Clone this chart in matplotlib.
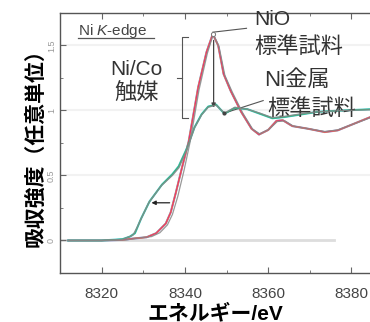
import numpy as np
import matplotlib
matplotlib.use('Agg')
import matplotlib.pyplot as plt

plt.rcParams['font.family'] = ['Liberation Sans', 'Noto Sans CJK JP', 'DejaVu Sans']
plt.rcParams['mathtext.fontset'] = 'custom'
plt.rcParams['mathtext.rm'] = 'Liberation Sans'
plt.rcParams['mathtext.it'] = 'Liberation Sans:italic'

# Ni/Co catalyst, oxidised state (follows NiO)
E_ox = [8312, 8320, 8325, 8327.6, 8330.8, 8333.1, 8335.4, 8336.6, 8337.8, 8339.3,
        8340.9, 8343.2, 8345.2, 8346.7, 8348.0, 8349.3, 8351.0, 8353.5, 8356.0,
        8357.8, 8360.0, 8362.0, 8363.5, 8365.8, 8369.5, 8373.6, 8376.7, 8380.0, 8385.0]
I_ox = [0, 0, 0.005, 0.015, 0.025, 0.056, 0.13, 0.217, 0.365, 0.56,
        0.76, 1.18, 1.45, 1.588, 1.50, 1.28, 1.15, 0.99, 0.86,
        0.815, 0.85, 0.92, 0.925, 0.88, 0.86, 0.834, 0.847, 0.89, 0.955]

# Ni/Co catalyst, reduced state (follows Ni metal)
E_red = [8312, 8320, 8325, 8326.8, 8328.0, 8329.5, 8331.5, 8334.5, 8337.0, 8338.5,
         8340.5, 8342.3, 8344.0, 8345.6, 8347.5, 8349.5, 8352.0, 8355.0, 8358.0,
         8361.0, 8364.0, 8368.0, 8372.0, 8378.0, 8385.0]
I_red = [0, 0, 0.01, 0.03, 0.056, 0.17, 0.30, 0.43, 0.51, 0.57,
         0.71, 0.87, 0.97, 1.03, 1.045, 0.975, 1.02, 1.01, 0.975,
         0.94, 0.95, 0.97, 0.99, 1.0, 1.01]

# reference standards (gray)
E_nio = [8312, 8320, 8326, 8329.0, 8332.0, 8334.0, 8335.8, 8337.0, 8338.3, 8339.8,
         8341.2, 8343.4, 8345.4, 8346.8, 8348.2, 8349.6, 8351.4, 8353.9, 8356.3,
         8358.0, 8360.2, 8362.2, 8364.0, 8366.0, 8369.5, 8373.6, 8376.7, 8380.0, 8385.0]
I_nio = [0, 0, 0.005, 0.02, 0.03, 0.06, 0.12, 0.20, 0.34, 0.54,
         0.75, 1.16, 1.44, 1.585, 1.49, 1.27, 1.14, 0.98, 0.855,
         0.82, 0.855, 0.915, 0.92, 0.88, 0.86, 0.838, 0.85, 0.89, 0.95]
E_ni = [8312, 8320, 8325, 8327.5, 8328.5, 8331.3, 8334.3, 8337.0, 8338.6,
        8340.6, 8342.3, 8344.0, 8345.6, 8347.5, 8349.5, 8352.0, 8355.0, 8358.0,
        8361.0, 8364.0, 8368.0, 8372.0, 8378.0, 8385.0]
I_ni = [0, 0, 0.008, 0.04, 0.1, 0.29, 0.42, 0.50, 0.56,
        0.71, 0.865, 0.965, 1.025, 1.04, 0.98, 1.025, 1.01, 0.98,
        0.945, 0.955, 0.975, 0.99, 1.0, 1.005]

x_ticks = [8320, 8340, 8360, 8380]
y_ticks = [0, 0.5, 1, 1.5]
y_tick_labels = ['0', '0.5', '1', '1.5']

fig = plt.figure(figsize=(3.7, 3.22), dpi=100)
ax = fig.add_axes([60 / 370, 1 - 273 / 322, 311 / 370, (273 - 12.7) / 322])

ax.axhline(0, color='#dddddd', lw=2.0, zorder=0, xmax=0.88)
for yy in [0.5, 1.0, 1.5]:
    ax.axhline(yy, color='#f2f2f2', lw=1.5, zorder=0)

# colored catalyst spectra (several overlapping conditions)
ax.plot(E_ox, I_ox, color='#6f7de8', lw=1.5, zorder=2)
ax.plot(E_ox, I_ox, color='#e8c040', lw=1.2, zorder=2)
ax.plot(E_ox, I_ox, color='#e8336f', lw=0.9, zorder=3)
ax.plot(E_red, I_red, color='#40c8c8', lw=1.5, zorder=2)
ax.plot(E_red, I_red, color='#3cb07a', lw=0.9, zorder=3)

# standards
ax.plot(E_nio, I_nio, color='#888888', lw=0.9, zorder=4, alpha=0.85)
ax.plot(E_ni, I_ni, color='#888888', lw=0.9, zorder=4, alpha=0.85)

ax.set_xlim(8312, 8384.7)
ax.set_ylim(-0.176, 1.752)
ax.set_xticks(x_ticks)
ax.set_xticks(np.arange(8310, 8390, 10), minor=True)
ax.set_yticks(y_ticks)
ax.set_yticklabels(y_tick_labels, rotation=90, va='center', color='#999999', fontsize=6.5)
ax.set_yticks(np.arange(-0.25, 1.76, 0.25), minor=True)
ax.tick_params(axis='x', labelsize=11, colors='#444444', pad=10)
ax.tick_params(which='both', direction='in', top=True, color='#666666')
ax.tick_params(which='major', length=4)
ax.tick_params(which='minor', length=2)
ax.tick_params(axis='y', pad=3)
for s in ax.spines.values():
    s.set_color('#555555')
    s.set_linewidth(1.0)

ax.set_xlabel('エネルギー/eV', family=['Liberation Sans', 'Noto Sans CJK JP'],
              fontsize=15, fontweight='bold', labelpad=2)
ax.set_ylabel('吸収強度（任意単位）', family=['Noto Sans CJK JP'],
              fontsize=15, fontweight='bold', labelpad=1)

# annotations
ax.text(8314.4, 1.612, 'Ni $\\mathit{K}$-edge', fontsize=11, color='#444444', va='center', ha='left')
ax.plot([8314.4, 8332.6], [1.556, 1.556], color='#555555', lw=0.9)

ax.text(8328.4, 1.313, 'Ni/Co', fontsize=15, color='#333333', ha='center', va='center')
ax.text(8328.4, 1.128, '触媒', fontsize=16, color='#333333', ha='center', va='center',
        family=['Noto Sans CJK JP'])
ax.plot([8340.8, 8339.4, 8339.4, 8340.8], [1.565, 1.565, 0.943, 0.943], color='#555555', lw=0.8)
ax.plot([8338.0, 8339.4], [1.247, 1.247], color='#555555', lw=0.8)

ax.text(8356.7, 1.699, 'NiO', fontsize=15, color='#333333', ha='left', va='center')
ax.text(8356.7, 1.493, '標準試料', fontsize=16, color='#333333', ha='left', va='center',
        family=['Noto Sans CJK JP'])
ax.plot([8346.7, 8354.8], [1.602, 1.632], color='#555555', lw=0.8)

ax.text(8359.0, 1.232, 'Ni金属', fontsize=16, color='#333333', ha='left', va='center')
ax.text(8359.8, 1.019, '標準試料', fontsize=16, color='#333333', ha='left', va='center',
        family=['Noto Sans CJK JP'])
ax.plot([8349.5, 8358.8], [0.98, 1.076], color='#555555', lw=0.8)

ax.annotate('', xy=(8346.9, 1.0), xytext=(8346.9, 1.56),
            arrowprops=dict(arrowstyle='-|>', color='#444444', lw=0.9, mutation_scale=6))
ax.annotate('', xy=(8331.3, 0.29), xytext=(8337.0, 0.29),
            arrowprops=dict(arrowstyle='-|>', color='#222222', lw=0.9, mutation_scale=6), zorder=6)
ax.plot([8346.7], [1.588], 'o', ms=3, mfc='white', mec='#777777', mew=0.7, zorder=5)
ax.plot([8349.5], [0.98], 'o', ms=2, color='#444444', zorder=5)

fig.savefig('out.png', dpi=100)
